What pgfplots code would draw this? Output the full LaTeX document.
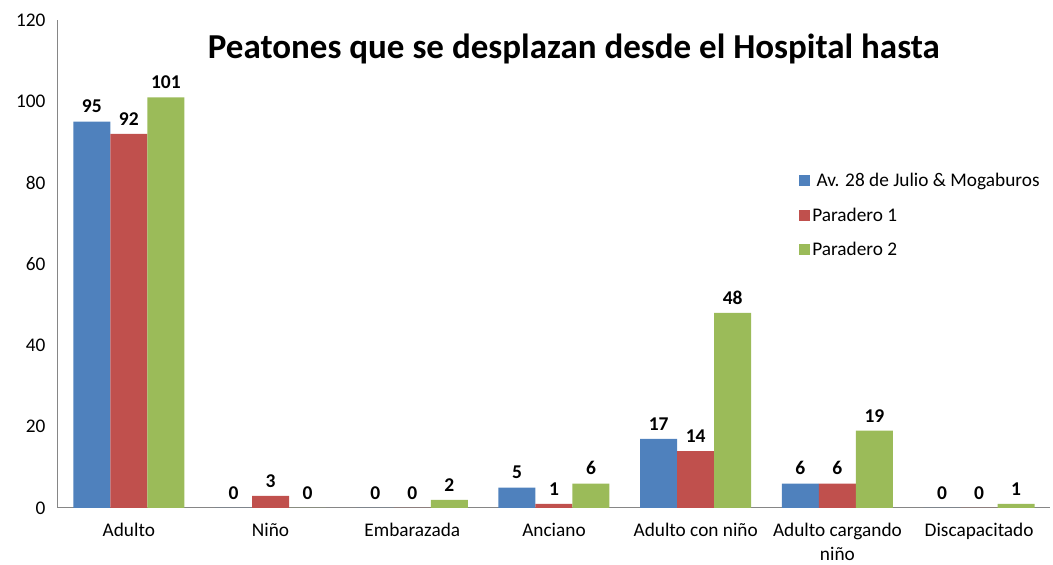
\documentclass[border=0pt]{standalone}
\usepackage{fontspec}
\setmainfont{Carlito}
\usepackage{pgfplots}
\pgfplotsset{compat=1.18}
\definecolor{cblue}{HTML}{4F81BD}
\definecolor{cred}{HTML}{C0504D}
\definecolor{cgreen}{HTML}{9BBB59}
\definecolor{axgray}{HTML}{868686}
\begin{document}
\begin{tikzpicture}[x=1pt,y=1pt]
\path[use as bounding box] (-58,-57) rectangle (995,508);
\begin{axis}[
  at={(0,0)}, anchor=south west,
  scale only axis, width=992pt, height=488pt,
  ymin=0, ymax=120, ytick={0,20,...,120},
  xmin=-0.5, xmax=6.5, xtick={0,...,6},
  xticklabels={Adulto, Niño, Embarazada, Anciano, Adulto con niño, {Adulto cargando\\niño}, Discapacitado},
  ybar=0pt, bar width=37pt,
  axis x line=bottom, axis y line=left,
  axis line style={-, draw=axgray, line width=1pt},
  major tick length=0pt, tick style={draw=none},
  /pgf/number format/assume math mode=true,
  yticklabel style={font=\fontsize{19.3}{22}\selectfont, xshift=-9pt},
  xticklabel style={font=\fontsize{19.3}{23.5}\selectfont, align=center, yshift=-14pt, inner sep=1pt},
  nodes near coords,
  nodes near coords style={font=\bfseries\fontsize{19.5}{22}\selectfont, black, yshift=5pt},
  title={Peatones que se desplazan desde el Hospital hasta},
  title style={at={(0.52,0.928)}, anchor=center, font=\bfseries\fontsize{35}{40}\selectfont},
  legend image code/.code={\fill[#1] (0pt,-5.5pt) rectangle (11pt,5.5pt);},
  legend style={at={(0.744,0.694)}, anchor=north west, draw=none, fill=none,
    font=\fontsize{19.3}{22}\selectfont, row sep=15.5pt},
  legend cell align=left,
]
\addplot[fill=cblue, draw=none] coordinates {(0,95) (1,0) (2,0) (3,5) (4,17) (5,6) (6,0)};
\addplot[fill=cred, draw=none] coordinates {(0,92) (1,3) (2,0) (3,1) (4,14) (5,6) (6,0)};
\addplot[fill=cgreen, draw=none] coordinates {(0,101) (1,0) (2,2) (3,6) (4,48) (5,19) (6,1)};
\legend{\ Av. 28 de Julio \& Mogaburos, Paradero 1, Paradero 2}
\end{axis}
\end{tikzpicture}
\end{document}
